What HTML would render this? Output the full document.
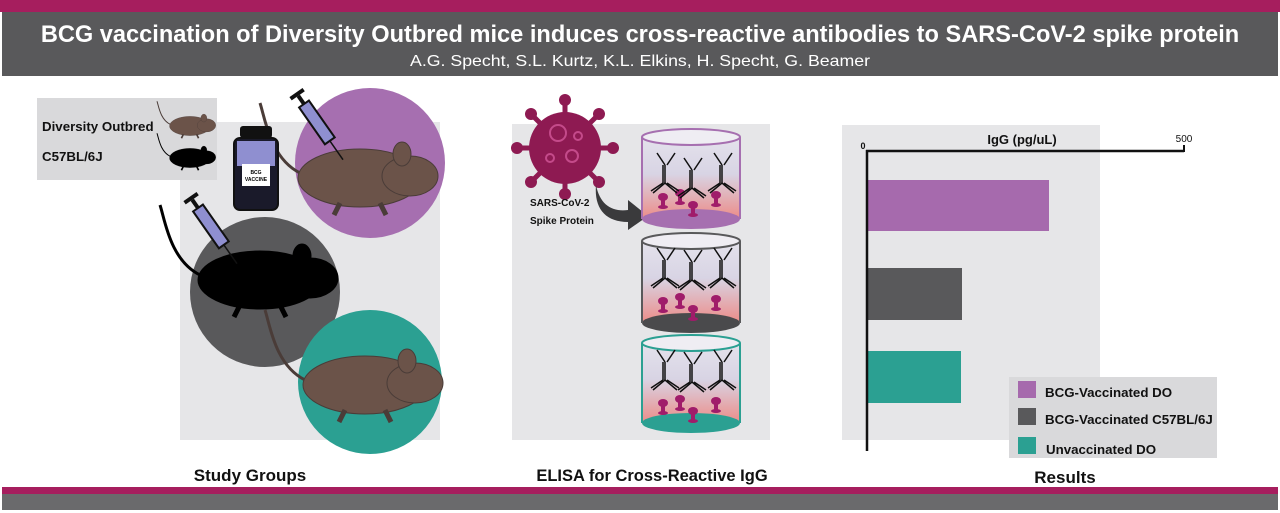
<!DOCTYPE html>
<html><head><meta charset="utf-8"><style>
html,body{margin:0;padding:0;background:#fff;}
svg{display:block;font-family:"Liberation Sans",Arial,sans-serif;}
</style></head><body>
<svg width="1280" height="513" viewBox="0 0 1280 513" xmlns="http://www.w3.org/2000/svg">
<defs>
<linearGradient id="well" x1="0" y1="0" x2="0" y2="1">
<stop offset="0" stop-color="#e4e2ec"/><stop offset="0.45" stop-color="#d8d4e4"/><stop offset="1" stop-color="#ec8c88"/>
</linearGradient>
<g id="mouse">
<path d="M-60,-5 C-90,-20 -95,-60 -100,-75" stroke-width="3" fill="none"/>
<ellipse cx="0" cy="0" rx="62" ry="29"/>
<ellipse cx="50" cy="-2" rx="28" ry="20"/>
<ellipse cx="42" cy="-24" rx="9" ry="12"/>
<path d="M-20,25 l-6,12 M20,25 l6,12" stroke-width="5"/>
</g>
<g id="ab" stroke="#111" stroke-width="1.5" fill="none">
<path d="M0,0 L0,18 M-2,0 L-2,18 M0,18 L-12,28 M-2,18 L-14,26 M0,18 L12,28 M2,18 L14,26 M0,0 L-8,-12 M2,0 L10,-12"/>
</g>
<g id="sp" fill="#a01c6a"><rect x="-2" y="-6" width="4" height="8"/><ellipse cx="0" cy="-7" rx="5" ry="4"/><ellipse cx="0" cy="3" rx="5" ry="2"/></g>
</defs>
<!-- header -->
<rect x="0" y="0" width="1280" height="12" fill="#a61e5e"/>
<rect x="2" y="12" width="1276" height="64" fill="#59595b"/>
<text x="640" y="42" text-anchor="middle" fill="#fff" font-size="23.6" font-weight="bold">BCG vaccination of Diversity Outbred mice induces cross-reactive antibodies to SARS-CoV-2 spike protein</text>
<text x="640" y="66" text-anchor="middle" fill="#fff" font-size="16" textLength="460" lengthAdjust="spacingAndGlyphs">A.G. Specht, S.L. Kurtz, K.L. Elkins, H. Specht, G. Beamer</text>
<!-- left panel -->
<rect x="180" y="122" width="260" height="318" fill="#e6e6e8"/>
<rect x="37" y="98" width="180" height="82" fill="#d9d9db"/>
<text x="42" y="131" font-size="13.3" font-weight="bold" fill="#111">Diversity Outbred</text>
<text x="42" y="161" font-size="13.3" font-weight="bold" fill="#111">C57BL/6J</text>
<g transform="translate(190,126) scale(0.33)" fill="#6b5349" stroke="#4a3c38"><use href="#mouse"/></g>
<g transform="translate(190,158) scale(0.33)" fill="#000" stroke="#000"><use href="#mouse"/></g>
<circle cx="370" cy="163" r="75" fill="#a66fb0"/>
<circle cx="265" cy="292" r="75" fill="#59595b"/>
<circle cx="370" cy="382" r="72" fill="#2ba092"/>
<g transform="translate(360,178)" fill="#6b5349" stroke="#4a3c38"><use href="#mouse"/></g>
<g transform="translate(260,280)" fill="#000" stroke="#000"><use href="#mouse"/></g>
<g transform="translate(365,385)" fill="#6b5349" stroke="#4a3c38"><use href="#mouse"/></g>
<!-- vial -->
<rect x="240" y="126" width="32" height="12" rx="3" fill="#111"/>
<rect x="234" y="138" width="44" height="72" rx="6" fill="#1a1a2a" stroke="#111" stroke-width="2"/>
<rect x="237" y="141" width="38" height="25" fill="#8f8fd0"/>
<rect x="242" y="164" width="28" height="22" fill="#fff"/>
<text x="256" y="174" font-size="5" text-anchor="middle" font-weight="bold">BCG</text>
<text x="256" y="181" font-size="5" text-anchor="middle" font-weight="bold">VACCINE</text>
<!-- syringes -->
<g transform="translate(304,104) rotate(55)"><rect x="0" y="-6" width="45" height="12" fill="#8f8fd0" stroke="#111" stroke-width="2"/><rect x="-10" y="-2" width="10" height="4" fill="#111"/><rect x="-14" y="-8" width="4" height="16" fill="#111"/><line x1="45" y1="0" x2="68" y2="0" stroke="#111" stroke-width="1.5"/></g>
<g transform="translate(198,208) rotate(55)"><rect x="0" y="-6" width="45" height="12" fill="#8f8fd0" stroke="#111" stroke-width="2"/><rect x="-10" y="-2" width="10" height="4" fill="#111"/><rect x="-14" y="-8" width="4" height="16" fill="#111"/><line x1="45" y1="0" x2="68" y2="0" stroke="#111" stroke-width="1.5"/></g>
<text x="250" y="481" text-anchor="middle" font-size="17" font-weight="bold" fill="#111">Study Groups</text>
<!-- middle panel -->
<rect x="512" y="124" width="258" height="316" fill="#e6e6e8"/>
<g fill="#8e1a52">
<circle cx="565" cy="148" r="36"/>
<g stroke="#8e1a52" stroke-width="5">
<line x1="565" y1="148" x2="565" y2="100"/><line x1="565" y1="148" x2="565" y2="194"/>
<line x1="565" y1="148" x2="517" y2="148"/><line x1="565" y1="148" x2="613" y2="148"/>
<line x1="565" y1="148" x2="531" y2="114"/><line x1="565" y1="148" x2="599" y2="182"/>
<line x1="565" y1="148" x2="599" y2="114"/><line x1="565" y1="148" x2="531" y2="182"/>
</g>
<circle cx="565" cy="100" r="6"/><circle cx="565" cy="194" r="6"/><circle cx="517" cy="148" r="6"/><circle cx="613" cy="148" r="6"/>
<circle cx="531" cy="114" r="6"/><circle cx="599" cy="182" r="6"/><circle cx="599" cy="114" r="6"/><circle cx="531" cy="182" r="6"/>
</g>
<g fill="none" stroke="#c44a8a" stroke-width="2"><circle cx="558" cy="133" r="8"/><circle cx="572" cy="156" r="6"/><circle cx="550" cy="158" r="4"/><circle cx="578" cy="136" r="4"/></g>
<path d="M596,185 C600,205 612,212 628,210 L628,200 L648,216 L628,230 L628,222 C605,222 594,208 596,185Z" fill="#3a3a3c"/>
<text x="530" y="206" font-size="10" font-weight="bold" fill="#111">SARS-CoV-2</text>
<text x="530" y="224" font-size="10" font-weight="bold" fill="#111">Spike Protein</text>
<rect x="642" y="137" width="98" height="82" fill="url(#well)"/>
<ellipse cx="691" cy="219" rx="49" ry="10" fill="#a66fb0"/>
<ellipse cx="691" cy="137" rx="49" ry="8" fill="#efedf3" stroke="#a66fb0" stroke-width="2"/>
<line x1="642" y1="137" x2="642" y2="219" stroke="#a66fb0" stroke-width="2"/><line x1="740" y1="137" x2="740" y2="219" stroke="#a66fb0" stroke-width="2"/>
<rect x="642" y="241" width="98" height="82" fill="url(#well)"/>
<ellipse cx="691" cy="323" rx="49" ry="10" fill="#4a4a4c"/>
<ellipse cx="691" cy="241" rx="49" ry="8" fill="#efedf3" stroke="#59595b" stroke-width="2"/>
<line x1="642" y1="241" x2="642" y2="323" stroke="#59595b" stroke-width="2"/><line x1="740" y1="241" x2="740" y2="323" stroke="#59595b" stroke-width="2"/>
<rect x="642" y="343" width="98" height="80" fill="url(#well)"/>
<ellipse cx="691" cy="423" rx="49" ry="10" fill="#2ba092"/>
<ellipse cx="691" cy="343" rx="49" ry="8" fill="#efedf3" stroke="#2ba092" stroke-width="2"/>
<line x1="642" y1="343" x2="642" y2="423" stroke="#2ba092" stroke-width="2"/><line x1="740" y1="343" x2="740" y2="423" stroke="#2ba092" stroke-width="2"/>
<use href="#sp" x="663" y="204"/><use href="#sp" x="680" y="200"/><use href="#sp" x="693" y="212"/><use href="#sp" x="716" y="202"/>
<use href="#sp" x="663" y="308"/><use href="#sp" x="680" y="304"/><use href="#sp" x="693" y="316"/><use href="#sp" x="716" y="306"/>
<use href="#sp" x="663" y="410"/><use href="#sp" x="680" y="406"/><use href="#sp" x="693" y="418"/><use href="#sp" x="716" y="408"/>
<use href="#ab" x="665" y="165"/><use href="#ab" x="692" y="170"/><use href="#ab" x="722" y="165"/>
<use href="#ab" x="665" y="260"/><use href="#ab" x="692" y="262"/><use href="#ab" x="722" y="260"/>
<use href="#ab" x="665" y="362"/><use href="#ab" x="692" y="364"/><use href="#ab" x="722" y="362"/>
<text x="652" y="481" text-anchor="middle" font-size="16.5" font-weight="bold" fill="#111">ELISA for Cross-Reactive IgG</text>
<!-- right panel -->
<rect x="842" y="125" width="258" height="315" fill="#e6e6e8"/>
<rect x="868" y="180" width="181" height="51" fill="#a66aad"/>
<rect x="868" y="268" width="94" height="52" fill="#59595b"/>
<rect x="868" y="351" width="93" height="52" fill="#2ba092"/>
<line x1="867" y1="150" x2="867" y2="451" stroke="#111" stroke-width="2.5"/>
<line x1="866" y1="151" x2="1184" y2="151" stroke="#111" stroke-width="2.5"/>
<line x1="1184" y1="145" x2="1184" y2="152" stroke="#111" stroke-width="2"/>
<text x="863" y="149" font-size="9" font-weight="bold" fill="#111" text-anchor="middle">0</text>
<text x="1184" y="142" font-size="10" fill="#111" text-anchor="middle">500</text>
<text x="1022" y="144" font-size="13" font-weight="bold" fill="#111" text-anchor="middle">IgG (pg/uL)</text>
<rect x="1009" y="377" width="208" height="81" fill="#d9d9db"/>
<rect x="1018" y="381" width="18" height="17" fill="#a66aad"/>
<rect x="1018" y="408" width="18" height="17" fill="#59595b"/>
<rect x="1018" y="437" width="18" height="17" fill="#2ba092"/>
<text x="1045" y="397" font-size="13.3" font-weight="bold" fill="#111">BCG-Vaccinated DO</text>
<text x="1045" y="424" font-size="13.3" font-weight="bold" fill="#111">BCG-Vaccinated C57BL/6J</text>
<text x="1046" y="454" font-size="13.3" font-weight="bold" fill="#111">Unvaccinated DO</text>
<text x="1065" y="483" text-anchor="middle" font-size="17" font-weight="bold" fill="#111">Results</text>
<!-- footer -->
<rect x="2" y="487" width="1276" height="7" fill="#a61e5e"/>
<rect x="2" y="494" width="1276" height="16" fill="#6a6a6c"/>
</svg>
</body></html>
